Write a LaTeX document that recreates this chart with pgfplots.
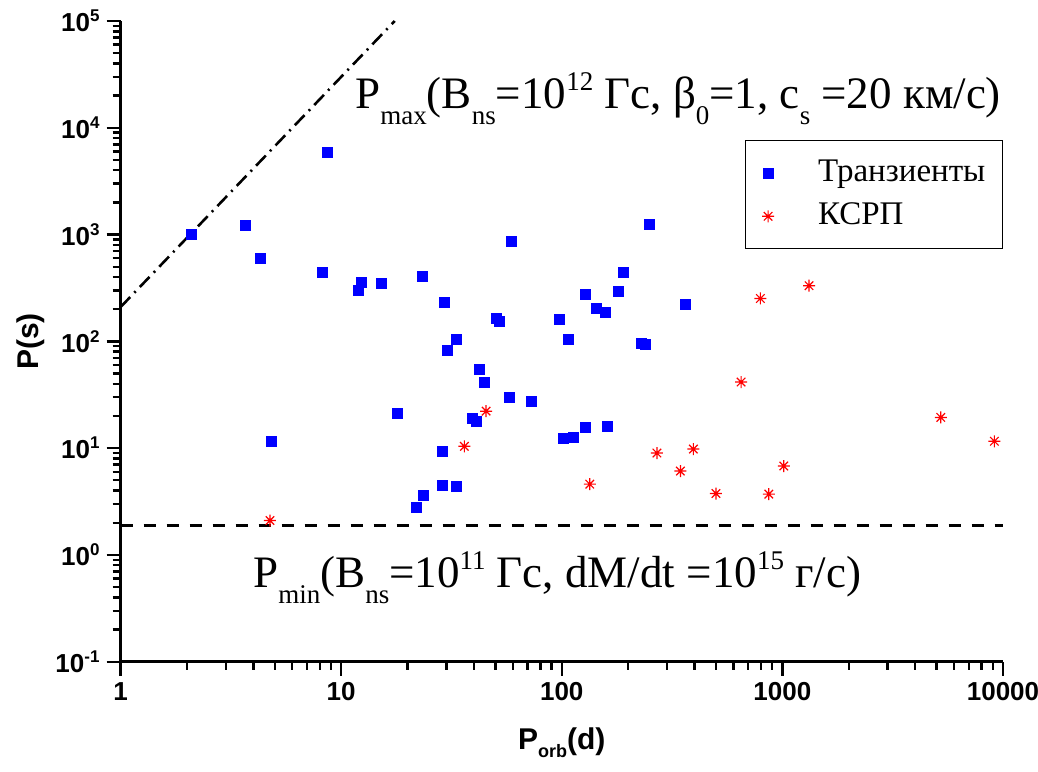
\documentclass[border=0pt]{standalone}
\usepackage{pgfplots}
\pgfplotsset{compat=1.18}
\usepackage{fontspec}
\setmainfont{Liberation Serif}
\newfontfamily\arialf{Liberation Sans}
\pgfdeclareplotmark{ast8}{%
  \pgfpathmoveto{\pgfqpoint{-\pgfplotmarksize}{0pt}}\pgfpathlineto{\pgfqpoint{\pgfplotmarksize}{0pt}}%
  \pgfpathmoveto{\pgfqpoint{0pt}{-\pgfplotmarksize}}\pgfpathlineto{\pgfqpoint{0pt}{\pgfplotmarksize}}%
  \pgfpathmoveto{\pgfqpoint{-0.707\pgfplotmarksize}{-0.707\pgfplotmarksize}}\pgfpathlineto{\pgfqpoint{0.707\pgfplotmarksize}{0.707\pgfplotmarksize}}%
  \pgfpathmoveto{\pgfqpoint{-0.707\pgfplotmarksize}{0.707\pgfplotmarksize}}\pgfpathlineto{\pgfqpoint{0.707\pgfplotmarksize}{-0.707\pgfplotmarksize}}%
  \pgfusepathqstroke}
\newcommand{\lo}[1]{\raisebox{-8pt}{\fontsize{13.5pt}{14pt}\selectfont #1}}
\newcommand{\hi}[1]{\raisebox{9pt}{\fontsize{13.5pt}{14pt}\selectfont #1}}
\newcommand{\tsup}[1]{\raisebox{5pt}{\fontsize{8.5pt}{9pt}\selectfont #1}}
\definecolor{pblue}{RGB}{0,0,255}
\definecolor{pred}{RGB}{255,0,0}
\begin{document}
\begin{tikzpicture}
\begin{axis}[name=ax, scale only axis, width=441.25pt, height=320.35pt,
  xmode=log, ymode=log, xmin=1, xmax=10000, ymin=0.1, ymax=100000,
  axis x line*=bottom, axis y line*=left,
  axis line style={line width=1.5pt, -},
  tick align=outside, major tick length=7pt, minor tick length=4pt,
  every tick/.style={black, line width=1.2pt},
  xtick={1,10,100,1000,10000}, xticklabels={1,10,100,1000,10000},
  ytick={0.1,1,10,100,1000,10000,100000},
  yticklabels={10\tsup{-1},10\tsup{0},10\tsup{1},10\tsup{2},10\tsup{3},10\tsup{4},10\tsup{5}},
  tick label style={font=\arialf\bfseries\fontsize{13pt}{14pt}\selectfont},
  xlabel={P\raisebox{-4pt}{\fontsize{9pt}{10pt}\selectfont orb}(d)},
  ylabel={P(s)},
  label style={font=\arialf\bfseries\fontsize{15pt}{16pt}\selectfont},
  xlabel style={at={(axis description cs:0.5,0)}, anchor=base, yshift=-44pt},
  ylabel style={at={(axis description cs:-0.102,0.5)}, anchor=center, rotate=0},
  clip=false,
  legend style={at={(rel axis cs:1.0,0.814)}, anchor=north east, draw=black, line width=0.6pt,
    font=\fontsize{16.5pt}{18pt}\selectfont, inner xsep=8.5pt, inner ysep=8.5pt,
    column sep=22pt, row sep=6pt,
    nodes={inner sep=0pt, text height=12pt, text depth=3.5pt}},
  legend cell align=left,
  legend image code/.code={\draw[#1] plot coordinates {(0pt,0pt)};},
]
\addplot[only marks, mark=square*, mark size=2.5pt, color=pblue, mark options={line width=0pt}] coordinates {
(2.1,1000) (3.7,1210) (8.7,5900) (4.3,600) (8.2,440) (12.4,357) (12.05,300) (15.3,349)
(23.3,405) (29.5,229) (30.5,81.7) (18.0,21.1) (4.83,11.6) (28.7,9.3) (28.9,4.46) (33.2,4.4)
(23.6,3.6) (22.0,2.76) (58.9,864) (250.6,1247) (191.5,440) (180,292) (127.6,273) (144,204)
(158,188) (362,220) (50.8,163) (52.1,153) (97.5,160) (107,103.5) (33.5,103.5) (230.5,95)
(240,93.5) (42.5,54.2) (44.8,41.6) (58.1,29.8) (73.1,27.2) (39.2,18.8) (40.9,17.6)
(101.7,12.3) (112.5,12.6) (127.6,15.5) (162,15.8)
};
\addlegendentry{Транзиенты}
\addplot[only marks, mark=ast8, mark size=3pt, color=pred, mark options={line width=0.6pt}] coordinates {
(4.76,2.1) (36.2,10.4) (45.4,22.2) (134,4.6) (270,9.0) (395,9.8) (345,6.1) (500,3.76)
(868,3.71) (1015,6.8) (650,41.6) (795,252) (1321,332) (5224,19.4) (9140,11.6)
};
\addlegendentry{КСРП}
\addplot[black, line width=1.4pt, dash pattern=on 6pt off 5.5pt, forget plot] coordinates {(1,1.87) (10000,1.87)};
\addplot[black, line width=1.3pt, dash pattern=on 7pt off 3pt on 1pt off 3pt, forget plot] coordinates {(1,209) (17.5,100000)};
\node[anchor=base west, font=\fontsize{22.5pt}{24pt}\selectfont, inner sep=0pt] at (rel axis cs:0.2657,0.864)
  {P\lo{max}(B\lo{ns}=10\hi{12} Гс, β\lo{0}=1, c\lo{s} =20 км/с)};
\node[anchor=base west, font=\fontsize{22.5pt}{24pt}\selectfont, inner sep=0pt] at (rel axis cs:0.150,0.1166)
  {P\lo{min}(B\lo{ns}=10\hi{11} Гс, dM/dt =10\hi{15} г/с)};
\end{axis}
\pgfresetboundingbox
\path[use as bounding box] ([shift={(-60.25pt,-54.65pt)}]ax.south west) rectangle ([shift={(17.5pt,10.5pt)}]ax.north east);
\end{tikzpicture}
\end{document}
